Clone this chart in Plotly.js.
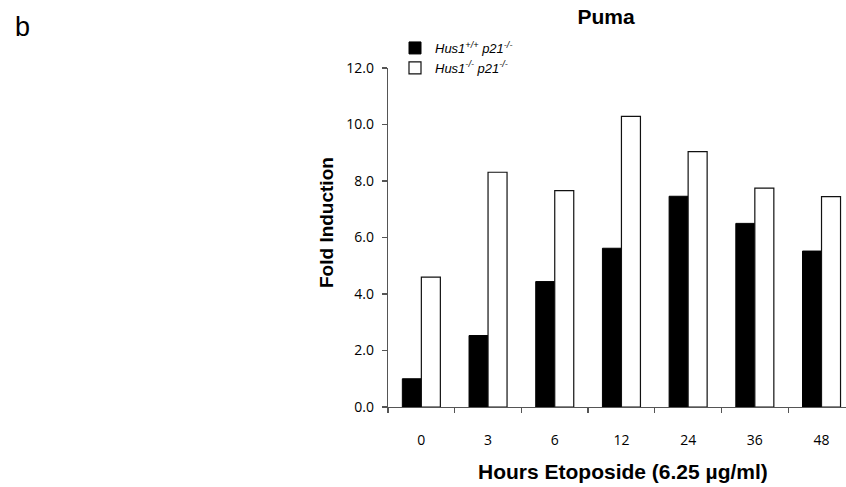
<!DOCTYPE html>
<html>
<head>
<meta charset="utf-8">
<script src="https://cdn.plot.ly/plotly-3.0.1.min.js"></script>
<style>body{margin:0;padding:0;background:#fff;}#chart{width:846px;height:487px;}</style>
</head>
<body>
<div id="chart"></div>
<script>
const categories = ["0", "3", "6", "12", "24", "36", "48"];
const hus1WT = [1.0, 2.53, 4.44, 5.62, 7.46, 6.5, 5.52];
const hus1KO = [4.6, 8.31, 7.66, 10.29, 9.04, 7.75, 7.45];
const yTicks = [0, 2, 4, 6, 8, 10, 12];
const yTickText = ["0.0", "2.0", "4.0", "6.0", "8.0", "10.0", "12.0"];
const yTitle = "Fold Induction";
const xTitle = "Hours Etoposide (6.25 \u00b5g/ml)";

const traces = [
  {
    type: "bar", x: categories, y: hus1WT,
    name: "<i>Hus1<sup>+/+</sup> p21<sup>-/-</sup></i>",
    marker: {color: "#000000", line: {color: "#000000", width: 1}}
  },
  {
    type: "bar", x: categories, y: hus1KO,
    name: "<i>Hus1<sup>-/-</sup> p21<sup>-/-</sup></i>",
    marker: {color: "#ffffff", line: {color: "#111111", width: 1.2}}
  }
];

const L = 388, T = 68, B = 80, W = 846, H = 487;
const PW = W - L, PH = H - T - B;
const px2x = v => (v - L) / PW;
const px2y = v => (H - B - v) / PH;

const layout = {
  width: W, height: H,
  margin: {l: L, r: 0, t: T, b: B, pad: 0, autoexpand: false},
  paper_bgcolor: "#ffffff", plot_bgcolor: "#ffffff",
  font: {family: "Open Sans, sans-serif", color: "#000000", size: 14},
  barmode: "group", bargap: 0.43, bargroupgap: 0,
  showlegend: true,
  title: {
    text: "<b>Puma</b>", x: 606/846, xanchor: "center", xref: "container",
    y: 1 - 17/487, yanchor: "middle", yref: "container",
    font: {family: "Liberation Sans, Arial, sans-serif", size: 21, color: "#000"}
  },
  legend: {
    xref: "paper", yref: "paper",
    x: px2x(395), y: px2y(33), xanchor: "left", yanchor: "top",
    bgcolor: "rgba(0,0,0,0)", borderwidth: 0, tracegroupgap: 0,
    itemwidth: 30, traceorder: "normal",
    font: {family: "Liberation Sans, Arial, sans-serif", size: 13, color: "#000"}
  },
  xaxis: {
    type: "category", range: [-0.5, 6.367], fixedrange: true, automargin: false,
    showline: true, linecolor: "#555555", linewidth: 1.2,
    ticks: "outside", ticklen: 5, tickcolor: "#555555", tickwidth: 1.2,
    tickson: "boundaries", ticklabelstandoff: 20,
    showgrid: false, zeroline: false,
    tickfont: {family: "Open Sans, sans-serif", size: 14, color: "#000"},
    title: {text: ""}
  },
  yaxis: {
    range: [0, 12], fixedrange: true, automargin: false,
    tickvals: yTicks, ticktext: yTickText,
    showline: true, linecolor: "#555555", linewidth: 1.2,
    ticks: "outside", ticklen: 5, tickcolor: "#555555", tickwidth: 1.2,
    ticklabelstandoff: 5,
    showgrid: false, zeroline: false,
    tickfont: {family: "Open Sans, sans-serif", size: 14, color: "#000"},
    title: {text: ""}
  },
  annotations: [
    {text: "b", xref: "paper", yref: "paper", x: px2x(22), y: px2y(27),
     xanchor: "center", yanchor: "middle", showarrow: false,
     font: {family: "Liberation Sans, Arial, sans-serif", size: 27, color: "#000"}},
    {text: "<b>" + yTitle + "</b>", xref: "paper", yref: "paper",
     x: px2x(326), y: px2y(223), textangle: -90,
     xanchor: "center", yanchor: "middle", showarrow: false,
     font: {family: "Liberation Sans, Arial, sans-serif", size: 19, color: "#000"}},
    {text: "<b>" + xTitle + "</b>", xref: "paper", yref: "paper",
     x: px2x(623), y: px2y(471),
     xanchor: "center", yanchor: "middle", showarrow: false,
     font: {family: "Liberation Sans, Arial, sans-serif", size: 21, color: "#000"}}
  ]
};

Plotly.newPlot("chart", traces, layout, {displayModeBar: false, staticPlot: true});
</script>
</body>
</html>
